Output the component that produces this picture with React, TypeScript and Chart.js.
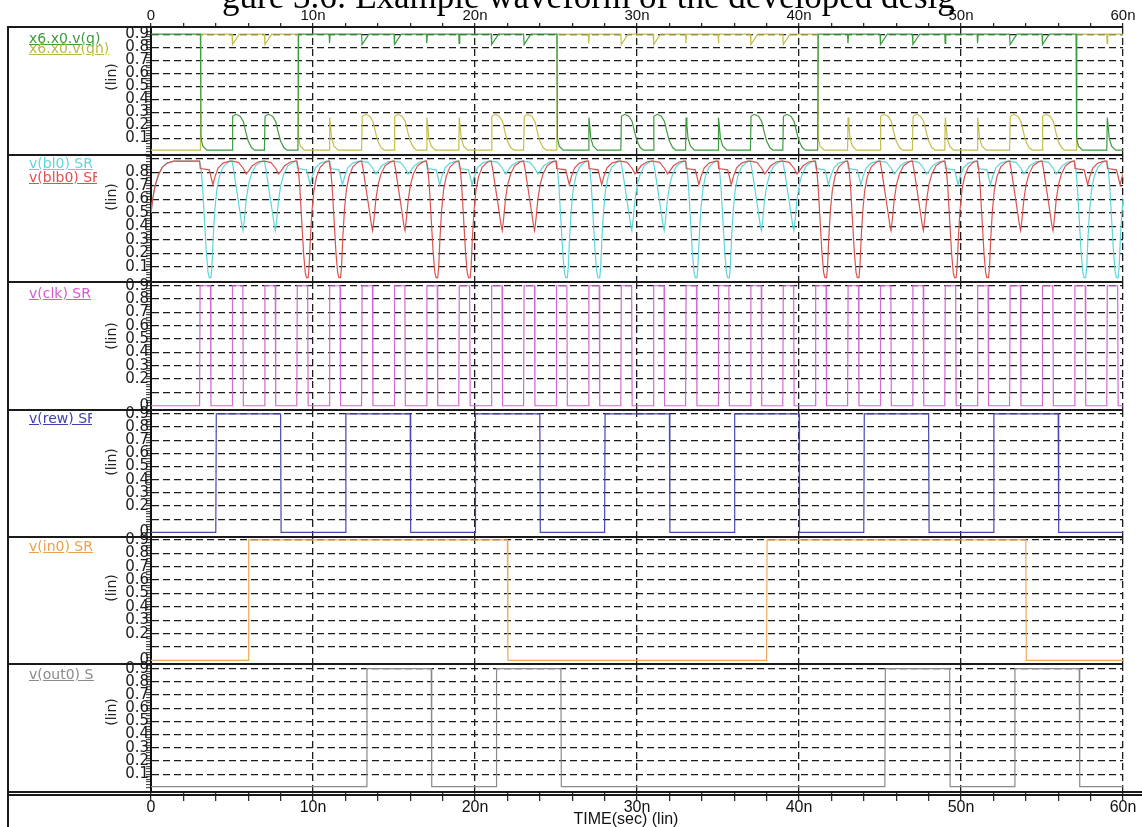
import React, { useEffect, useRef } from 'react';
import { Chart, registerables } from 'chart.js';
Chart.register(...registerables);

type Pt = { x: number; y: number };
type Shape = [number, number][];

// ---------------- data ----------------
const X_MIN = 0;
const X_MAX = 60; // ns
const X_TICK_VALUES = [0, 10, 20, 30, 40, 50, 60];
const X_TICK_LABELS = ['0', '10n', '20n', '30n', '40n', '50n', '60n'];
const X_MINOR_TICKS = [0, 2, 4, 6, 8, 10, 12, 14, 16, 18, 20, 22, 24, 26, 28, 30, 32, 34, 36, 38, 40, 42, 44, 46, 48, 50, 52, 54, 56, 58, 60];

const Y_LABELS_Q = [0.1, 0.2, 0.3, 0.4, 0.5, 0.6, 0.7, 0.8, 0.9];
const Y_LABELS_BL = [0.1, 0.2, 0.3, 0.4, 0.5, 0.6, 0.7, 0.8];
const Y_LABELS_CLK = [0, 0.2, 0.3, 0.4, 0.5, 0.6, 0.7, 0.8, 0.9];
const Y_LABELS_REW = [0, 0.2, 0.3, 0.4, 0.5, 0.6, 0.7, 0.8, 0.9];
const Y_LABELS_IN = [0, 0.2, 0.3, 0.4, 0.5, 0.6, 0.7, 0.8, 0.9];
const Y_LABELS_OUT = [0.1, 0.2, 0.3, 0.4, 0.5, 0.6, 0.7, 0.8, 0.9];
const Y_GRID_VALUES = [0.1, 0.2, 0.3, 0.4, 0.5, 0.6, 0.7, 0.8, 0.9];

// clock
const CLK_RISE_TIMES = [3, 5, 7, 9, 11, 13, 15, 17, 19, 21, 23, 25, 27, 29, 31, 33, 35, 37, 39, 41, 43, 45, 47, 49, 51, 53, 55, 57, 59];
const CLK_PULSE_WIDTH = 0.67;
const LOGIC_LOW = 0.0;
const LOGIC_HIGH = 0.9;
const EDGE = 0.03;

// digital signals: high intervals (ns)
const REW_HIGH = [[4, 8], [12, 16], [20, 24], [28, 32], [36, 40], [44, 48], [52, 56]];
const IN0_HIGH = [[6, 22], [38, 54]];
const OUT0_HIGH = [[13.3, 17.3], [21.3, 25.3], [45.3, 49.3], [53.3, 57.3]];

// operation at each clock pulse (W = write, R = read) and bit line pulled down
const CELL_OPS = ['W', 'R', 'R', 'W', 'W', 'R', 'R', 'W', 'W', 'R', 'R', 'W', 'W', 'R', 'R', 'W', 'W', 'R', 'R', 'W', 'W', 'R', 'R', 'W', 'W', 'R', 'R', 'W', 'W'];
const PULLED_LINE = ['bl', 'bl', 'bl', 'blb', 'blb', 'blb', 'blb', 'blb', 'blb', 'blb', 'blb', 'bl', 'bl', 'bl', 'bl', 'bl', 'bl', 'bl', 'bl', 'blb', 'blb', 'blb', 'blb', 'blb', 'blb', 'blb', 'blb', 'bl', 'bl'];
const Q_FLIP_TIMES = [3.05, 9.07, 25.05, 41.15, 57.1];
const Q_HIGH_LEVEL = 0.9;
const Q_LOW_LEVEL = 0.01;

// storage-node wave shapes (time offset ns, volts)
const FLIP_FALL: Shape = [[0, 0.9], [0.04, 0.1], [0.15, 0.04], [0.4, 0.01]];
const FLIP_RISE: Shape = [[0, 0.01], [0.04, 0.9]];
const SPIKE_LOW: Shape = [[0, 0.01], [0.03, 0.26], [0.08, 0.2], [0.15, 0.1], [0.3, 0.04], [0.55, 0.01]];
const BUMP_LOW: Shape = [[0, 0.01], [0.04, 0.27], [0.25, 0.285], [0.5, 0.27], [0.7, 0.23], [0.85, 0.15], [1.0, 0.08], [1.2, 0.03], [1.4, 0.01]];
const TICK_HIGH: Shape = [[0, 0.9], [0.02, 0.83], [0.06, 0.9]];
const NOTCH_HIGH: Shape = [[0, 0.9], [0.03, 0.82], [0.45, 0.9]];

// bit-line wave shapes
const BL_INIT: Shape = [[0, 0.5], [0.1, 0.6], [0.25, 0.7], [0.45, 0.78], [0.7, 0.84], [1.0, 0.87], [1.4, 0.885]];
const BL_DEEP: Shape = [[0, 0.885], [0.08, 0.84], [0.18, 0.7], [0.3, 0.45], [0.42, 0.2], [0.52, 0.06], [0.6, 0.02], [0.7, 0.02], [0.76, 0.1], [0.84, 0.32], [0.94, 0.52], [1.06, 0.67], [1.22, 0.77], [1.45, 0.84], [1.75, 0.875], [1.95, 0.885]];
const BL_PARTIAL: Shape = [[0, 0.885], [0.1, 0.82], [0.3, 0.66], [0.5, 0.5], [0.62, 0.4], [0.68, 0.37], [0.76, 0.45], [0.88, 0.6], [1.02, 0.71], [1.2, 0.79], [1.45, 0.85], [1.75, 0.877], [1.95, 0.885]];
const BL_WRITE_DIST: Shape = [[0, 0.885], [0.04, 0.83], [0.6, 0.82], [0.82, 0.71], [0.95, 0.77], [1.15, 0.835], [1.45, 0.87], [1.85, 0.885]];
const BL_READ_DIST: Shape = [[0, 0.885], [0.4, 0.875], [0.7, 0.83], [0.88, 0.79], [1.02, 0.81], [1.25, 0.85], [1.6, 0.878], [1.9, 0.885]];

// ---------------- series construction ----------------
const pushShape = (arr: Pt[], t0: number, shape: Shape) => {
  for (const [dt, v] of shape) arr.push({ x: +(t0 + dt).toFixed(4), y: v });
};

function buildPulses(intervals: number[][], low: number, high: number): Pt[] {
  const pts: Pt[] = [{ x: X_MIN, y: low }];
  for (const [a, b] of intervals) {
    pts.push({ x: a, y: low }, { x: a + EDGE, y: high }, { x: b, y: high }, { x: b + EDGE, y: low });
  }
  pts.push({ x: X_MAX, y: low });
  return pts;
}

function buildCell() {
  const q: Pt[] = [{ x: 0, y: Q_HIGH_LEVEL }];
  const qn: Pt[] = [{ x: 0, y: Q_LOW_LEVEL }];
  let qHigh = true;
  CLK_RISE_TIMES.forEach((t, i) => {
    const hi = qHigh ? q : qn;
    const lo = qHigh ? qn : q;
    const flip = Q_FLIP_TIMES.find((f) => Math.abs(f - t) < 0.5);
    if (flip !== undefined) {
      pushShape(hi, flip, FLIP_FALL);
      pushShape(lo, flip, FLIP_RISE);
      qHigh = !qHigh;
    } else if (CELL_OPS[i] === 'W') {
      pushShape(hi, t, TICK_HIGH);
      pushShape(lo, t, SPIKE_LOW);
    } else {
      pushShape(hi, t, NOTCH_HIGH);
      pushShape(lo, t, BUMP_LOW);
    }
  });
  q.push({ x: X_MAX, y: q[q.length - 1].y });
  qn.push({ x: X_MAX, y: qn[qn.length - 1].y });
  return { q, qn };
}

function buildBitlines() {
  const bl: Pt[] = [];
  const blb: Pt[] = [];
  pushShape(bl, 0, BL_INIT);
  pushShape(blb, 0, BL_INIT);
  CLK_RISE_TIMES.forEach((t, i) => {
    const w = CELL_OPS[i] === 'W';
    const pulled = PULLED_LINE[i] === 'bl' ? bl : blb;
    const other = PULLED_LINE[i] === 'bl' ? blb : bl;
    pushShape(pulled, t, w ? BL_DEEP : BL_PARTIAL);
    pushShape(other, t, w ? BL_WRITE_DIST : BL_READ_DIST);
  });
  return { bl, blb };
}

const CELL = buildCell();
const BITS = buildBitlines();
const CLK = buildPulses(CLK_RISE_TIMES.map((t) => [t, t + CLK_PULSE_WIDTH]), LOGIC_LOW, LOGIC_HIGH);
const REW = buildPulses(REW_HIGH, LOGIC_LOW, LOGIC_HIGH);
const IN0 = buildPulses(IN0_HIGH, LOGIC_LOW, LOGIC_HIGH);
const OUT0 = buildPulses(OUT0_HIGH, LOGIC_LOW + 0.005, LOGIC_HIGH);

const Y_MINOR: number[] = [];
for (let k = 0; k <= 46; k++) Y_MINOR.push(Math.round(k * 2) / 100);

type Panel = {
  top: number; bottom: number; yMin: number; yMax: number; labels: number[];
  axis: 'top' | 'none' | 'bottom';
  series: { data: Pt[]; color: string }[];
  legend: { text: string; color: string; base: number }[];
  clip: number;
  linY: number;
};

const PANELS: Panel[] = [
  { top: 27, bottom: 155, yMin: -0.027, yMax: 0.955, labels: Y_LABELS_Q, axis: 'top',
    series: [{ data: CELL.q, color: '#3f9b3f' }, { data: CELL.qn, color: '#c4bf4a' }],
    legend: [{ text: 'x6.x0.v(q)', color: '#3f9b3f', base: 40.5 }, { text: 'x6.x0.v(qn)', color: '#bdb645', base: 50.5 }], clip: 85, linY: 77 },
  { top: 155, bottom: 282, yMin: -0.012, yMax: 0.93, labels: Y_LABELS_BL, axis: 'none',
    series: [{ data: BITS.blb, color: '#d9534f' }, { data: BITS.bl, color: '#5ed6d9' }],
    legend: [{ text: 'v(bl0) SR', color: '#5ed6d9', base: 166 }, { text: 'v(blb0) SR', color: '#d9534f', base: 180 }], clip: 68, linY: 197 },
  { top: 282, bottom: 410, yMin: -0.032, yMax: 0.928, labels: Y_LABELS_CLK, axis: 'none',
    series: [{ data: CLK, color: '#d46ad4' }],
    legend: [{ text: 'v(clk) SR', color: '#d45ad4', base: 296 }], clip: 68, linY: 336 },
  { top: 410, bottom: 537, yMin: -0.035, yMax: 0.93, labels: Y_LABELS_REW, axis: 'none',
    series: [{ data: REW, color: '#4848b2' }],
    legend: [{ text: 'v(rew) SR', color: '#4040b0', base: 421 }], clip: 63, linY: 462 },
  { top: 537, bottom: 664, yMin: -0.027, yMax: 0.922, labels: Y_LABELS_IN, axis: 'none',
    series: [{ data: IN0, color: '#efa95c' }],
    legend: [{ text: 'v(in0) SR', color: '#eba050', base: 549 }], clip: 68, linY: 588 },
  { top: 664, bottom: 792, yMin: -0.035, yMax: 0.935, labels: Y_LABELS_OUT, axis: 'bottom',
    series: [{ data: OUT0, color: '#8a8a8a' }],
    legend: [{ text: 'v(out0) SR', color: '#8a8a8a', base: 677 }], clip: 65, linY: 712 },
];

function geom(p: Panel) {
  if (p.axis === 'top') return { canvasTop: 0, height: p.bottom + 8, padTop: 0, padBottom: 8 };
  if (p.axis === 'bottom') return { canvasTop: p.top - 8, height: 827 - (p.top - 8), padTop: 8, padBottom: 0 };
  return { canvasTop: p.top - 8, height: p.bottom - p.top + 16, padTop: 8, padBottom: 8 };
}

const isMajorY = (v: any) => typeof v === 'number' && Y_GRID_VALUES.some((g) => Math.abs(g - v) < 1e-6);
const GRID = '#1c1c1c';
const CLEAR = 'rgba(0,0,0,0)';

function makeConfig(p: Panel): any {
  const g = geom(p);
  return {
    type: 'line',
    data: {
      datasets: p.series.map((s) => ({
        data: s.data, borderColor: s.color, backgroundColor: s.color, borderWidth: 1.2,
        pointRadius: 0, pointHoverRadius: 0, tension: 0, fill: false,
      })),
    },
    options: {
      animation: false, responsive: false, maintainAspectRatio: false, events: [],
      layout: { padding: { left: 0, right: 19, top: g.padTop, bottom: g.padBottom } },
      plugins: { legend: { display: false }, tooltip: { enabled: false }, title: { display: false } },
      scales: {
        x: {
          type: 'linear', min: X_MIN, max: X_MAX, position: p.axis === 'top' ? 'top' : 'bottom',
          afterBuildTicks: (ax: any) => { ax.ticks = X_MINOR_TICKS.map((v) => ({ value: v })); },
          afterFit: (ax: any) => {
            ax.height = p.axis === 'top' ? 27 : p.axis === 'bottom' ? 35 : 0;
            ax.paddingLeft = 0; ax.paddingRight = 0; ax.paddingTop = 0; ax.paddingBottom = 0;
          },
          ticks: {
            display: p.axis !== 'none', autoSkip: false, maxRotation: 0, minRotation: 0,
            padding: p.axis === 'top' ? -2 : -3, color: '#111',
            font: p.axis === 'top' ? { family: 'Liberation Sans', size: 15 } : { family: 'Liberation Sans', size: 16 },
            callback: (v: number) => { const k = X_TICK_VALUES.indexOf(v); return k >= 0 ? X_TICK_LABELS[k] : ''; },
          },
          grid: {
            drawTicks: p.axis !== 'none', tickLength: p.axis === 'top' ? 4 : 9, tickColor: '#222', tickWidth: 1.2,
            lineWidth: 1.3,
            color: (c: any) => { const v = c.tick?.value; return typeof v === 'number' && v > 0 && v % 10 === 0 ? GRID : CLEAR; },
          },
          border: { display: false, dash: [7, 4] },
        },
        y: {
          type: 'linear', min: p.yMin, max: p.yMax,
          afterBuildTicks: (ax: any) => { ax.ticks = Y_MINOR.map((v) => ({ value: v })); },
          afterFit: (ax: any) => { ax.width = 151; ax.paddingTop = 0; ax.paddingBottom = 0; },
          ticks: {
            autoSkip: false, padding: -3, color: '#1a1a1a', font: { family: 'DejaVu Sans', size: 15 },
            callback: (v: number) => (p.labels.some((l) => Math.abs(l - v) < 1e-6) ? (v === 0 ? '0' : v.toFixed(1)) : ''),
          },
          grid: {
            color: (c: any) => (isMajorY(c.tick?.value) ? GRID : CLEAR),
            lineWidth: 1.3, tickLength: 5, tickColor: '#333', tickWidth: 1, drawTicks: true,
          },
          border: { display: true, color: '#111', width: 2, dash: [7, 4] },
        },
      },
    },
  };
}

const HLine = ({ y, x1, x2, h = 2 }: { y: number; x1: number; x2: number; h?: number }) => (
  <div style={{ position: 'absolute', left: x1, top: y - h / 2, width: x2 - x1, height: h, background: '#1a1a1a' }} />
);

export default function App() {
  const refs = useRef<(HTMLCanvasElement | null)[]>([]);
  useEffect(() => {
    const charts = PANELS.map((p, i) => new Chart(refs.current[i] as HTMLCanvasElement, makeConfig(p)));
    return () => charts.forEach((c) => c.destroy());
  }, []);

  const sepYs = [27, 155, 282, 410, 537, 664];
  return (
    <div style={{ position: 'fixed', left: 0, top: 0, width: 1142, height: 827, background: '#fff', overflow: 'hidden' }}>
      {PANELS.map((p, i) => {
        const g = geom(p);
        return (
          <canvas key={i} ref={(el) => { refs.current[i] = el; }} width={1142} height={g.height}
            style={{ position: 'absolute', left: 0, top: g.canvasTop, width: 1142, height: g.height }} />
        );
      })}
      {sepYs.map((y) => <HLine key={y} y={y} x1={7} x2={1123} />)}
      <HLine y={791.5} x1={7} x2={1142} />
      <HLine y={795} x1={7} x2={1142} h={1.5} />
      <div style={{ position: 'absolute', left: 7, top: 26, width: 2, height: 801, background: '#1a1a1a' }} />
      <div style={{ position: 'absolute', left: 222, top: -21, whiteSpace: 'nowrap', fontFamily: 'Liberation Serif', fontSize: 35, lineHeight: '35px', color: '#000' }}>
        gure 3.6: Example waveform of the developed desig
      </div>
      {PANELS.map((p, i) => (
        <React.Fragment key={'l' + i}>
          {p.legend.map((l, j) => (
            <div key={j} style={{ position: 'absolute', left: 29, top: l.base - 12, width: p.clip, height: 17, overflow: 'hidden' }}>
              <span style={{ whiteSpace: 'nowrap', fontFamily: 'DejaVu Sans', fontSize: 14, lineHeight: '14px', color: l.color, textDecoration: 'underline' }}>{l.text}</span>
            </div>
          ))}
          <div style={{ position: 'absolute', left: 111, top: p.linY, transform: 'translate(-50%, -50%) rotate(-90deg)', whiteSpace: 'nowrap', fontFamily: 'DejaVu Sans', fontSize: 14, lineHeight: '14px', color: '#222' }}>
            (lin)
          </div>
        </React.Fragment>
      ))}
      <div style={{ position: 'absolute', left: 626, top: 811, transform: 'translateX(-50%)', whiteSpace: 'nowrap', fontFamily: 'Liberation Sans', fontSize: 16, lineHeight: '16px', color: '#111' }}>
        TIME(sec) (lin)
      </div>
    </div>
  );
}
